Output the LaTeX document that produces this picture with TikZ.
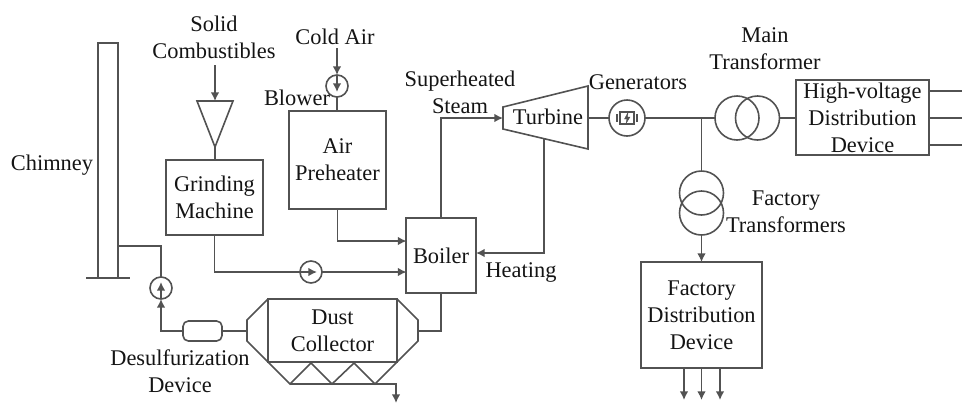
\documentclass[tikz,border=0pt]{standalone}
\usepackage{fontspec}
\setmainfont{Liberation Serif}
\usetikzlibrary{arrows.meta, positioning}
\definecolor{linegray}{gray}{0.32}
\definecolor{textgray}{gray}{0.08}

\begin{document}
\begin{tikzpicture}[
  x=0.75pt, y=-0.75pt,
  line width=1.2pt, draw=linegray,
  >={Latex[length=6.5pt,width=6.5pt]},
  label/.style={align=center, inner sep=0pt, text=textgray, font=\fontsize{16.8}{20.25}\selectfont},
  box/.style={draw=linegray, label, outer sep=0pt},
  pump/.style={draw=linegray, circle, minimum size=16.5pt, inner sep=0pt, outer sep=0pt},
  xfmr/.style={draw=linegray, circle, minimum size=33pt, inner sep=0pt, outer sep=0pt}]
\useasboundingbox (0,0) rectangle (962,404);
% boxes
\node[box, minimum width=72.75pt, minimum height=56.25pt] (grinder) at (214.5,197.5) {Grinding\\ Machine};
\node[box, minimum width=72.75pt, minimum height=73.5pt] (preheater) at (337.5,160) {Air\\ Preheater};
\node[box, minimum width=52.5pt, minimum height=56.25pt] (boiler) at (441,255.5) {Boiler};
\node[box, minimum width=99.75pt, minimum height=56.25pt] (hvdev) at (862.5,117.5) {High-voltage\\ Distribution\\ Device};
\node[box, minimum width=90.75pt, minimum height=79.5pt] (factdev) at (701.5,315) {Factory\\ Distribution\\ Device};
\node[box, minimum width=96.75pt, minimum height=47.25pt] (dust) at (332.5,330.5) {Dust\\ Collector};
\node[draw=linegray, rounded corners=4pt, minimum width=29.25pt, minimum height=15pt, inner sep=0pt, outer sep=0pt] (desulf) at (202.5,331) {};
% chimney
\node[draw=linegray, minimum width=15pt, minimum height=176.25pt, inner sep=0pt, outer sep=0pt] (chimney) at (108,160.5) {};
\draw (86,278) coordinate (basel) -- (130,278) coordinate (baser);
\coordinate (flue) at (118,246);
% dust collector shell
\draw (dust.north west) -- (247,320) coordinate (inlet) -- (247,341) -- (dust.south west) -- (290,384) coordinate (hopa)
  -- (311,363) -- (332,384) -- (354,363) -- (375,384) coordinate (hopb) -- (dust.south east)
  -- (418,341) -- (418,320) -- (dust.north east);
\draw (hopa) -- (hopb);
\coordinate (dustin) at (418,331);
\coordinate (dustout) at (247,331);
\coordinate (ash) at (396,403);
% hopper and turbine shells
\coordinate (hoppertip) at (215,147);
\draw (197,101) coordinate (hopperl) -- (233,101) coordinate (hopperr) -- (hoppertip) -- cycle;
\coordinate (hoppertop) at (215,101);
\draw (503,107) -- (588,86) -- (588,149) -- (503,129) -- cycle;
\coordinate (turbin) at (503,118);
\coordinate (turbout) at (588,118);
\coordinate (turbdrain) at (544,139);
\node[label] (turbine) at (548,117) {Turbine};
% rotating machines
\node[pump] (fan) at (161,288) {};
\node[pump] (mill) at (311,272) {};
\node[pump] (blower) at (337,86) {};
\node[pump, minimum size=27pt] (gen) at (627,118) {};
\draw[line width=0.9pt] (620,112) rectangle (634,124);
\draw[line width=0.9pt] (617,114) -- (617,122) (637,114) -- (637,122);
\draw[fill=linegray, draw=linegray, line width=0.3pt] (628,112.5) -- (624.5,119) -- (627,119) -- (626,123.5) -- (630,117) -- (627.5,117) -- cycle;
% transformers
\node[xfmr] (mainl) at (737,118) {};
\node[xfmr] (mainr) at (757.5,118) {};
\node[xfmr] (factu) at (701.5,193) {};
\node[xfmr] (factd) at (701.5,213) {};
\coordinate (bus) at (701.5,118);
% free ends
\coordinate (solid) at (215,65);
\coordinate (cold) at (337,48);
\coordinate (inair) at (406.5,241);
\coordinate (incoal) at (406.5,272);
\coordinate (inheat) at (476,253);
\coordinate (outa) at (962,91);
\coordinate (outb) at (962,118);
\coordinate (outc) at (962,145);
\coordinate (loada) at (684,400);
\coordinate (loadb) at (701.5,400);
\coordinate (loadc) at (720,400);
% flue gas side
\draw (flue) -| (fan.north);
\draw[->] (desulf.west) -| (fan.south);
\draw[->] (fan.south) -- ++(0,-17);
\draw (dustout) -- (desulf.east);
\draw (dustin) -| (boiler.south);
\draw[->] (hopb) -| (ash);
% fuel and air
\draw[->] (solid) -- (hoppertop);
\draw (hoppertip) -- (hoppertip|-grinder.north);
\draw (grinder.south) |- (mill.west);
\draw[->] (mill.east) -- (incoal);
\draw[->] (mill.west) -- ++(17,0);
\draw[->] (cold) -- (blower.north);
\draw[->] (blower.north) -- ++(0,17);
\draw (blower.south) -- (blower|-preheater.north);
\draw[->] (preheater.south) |- (inair);
% steam and power
\draw[->] (boiler.north) |- (turbin);
\draw[->] (turbdrain) |- (inheat);
\draw (turbout) -- (gen.west);
\draw (gen.east) -- (mainl.west);
\draw (mainr.east) -- (mainr-|hvdev.west);
\draw (bus) -- (factu.north);
\draw[->] (factd.south) -- (factdev.north);
\foreach \n in {outa, outb, outc}
  \draw (\n-|hvdev.east) -- (\n);
\foreach \n in {loada, loadb, loadc}
  \draw[->] (\n|-factdev.south) -- (\n);
% labels
\node[label] (chimneytxt) at (52,165) {Chimney};
\node[label] (solidtxt) at (214,37) {Solid\\ Combustibles};
\node[label] (coldtxt) at (335,37) {Cold Air};
\node[label] (blowertxt) at (297,98) {Blower};
\node[label] (steamtxt) at (460,92) {Superheated\\ Steam};
\node[label] (gentxt) at (638,82) {Generators};
\node[label] (maintxt) at (765,49) {Main\\ Transformer};
\node[label] (facttxt) at (786,211.5) {Factory\\ Transformers};
\node[label] (heattxt) at (521,272) {Heating};
\node[label] (desulftxt) at (180,371.5) {Desulfurization\\ Device};
\end{tikzpicture}
\end{document}
